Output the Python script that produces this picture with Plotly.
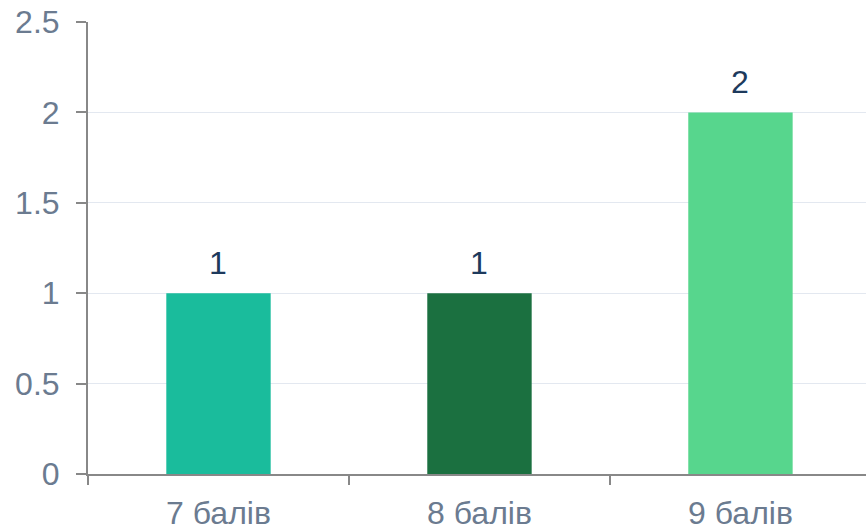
import plotly.graph_objects as go

categories = ["7 балів", "8 балів", "9 балів"]
values = [1, 1, 2]
colors = ["#1abc9c", "#1b7040", "#57d68d"]

fig = go.Figure()
fig.add_trace(go.Bar(
    x=categories,
    y=values,
    marker=dict(color=colors, line=dict(width=0)),
    width=0.4,
))

# value labels above the bars
for c, v in zip(categories, values):
    fig.add_annotation(
        x=c, y=v, text=str(v), showarrow=False,
        yanchor="bottom", yshift=10,
        font=dict(size=32, color="#1d3a5c"),
    )

axis_font = dict(family="Liberation Sans, Arial, sans-serif", size=32, color="#6b7b90")
fig.update_layout(
    width=866, height=528,
    margin=dict(l=88, r=0, t=22, b=54),
    plot_bgcolor="white", paper_bgcolor="white",
    showlegend=False,
    font=dict(family="Liberation Sans, Arial, sans-serif"),
)
fig.update_xaxes(
    range=[-0.5, 2.481],
    showline=True, linecolor="#888888", linewidth=2,
    ticks="outside", tickson="boundaries", ticklen=9, tickwidth=2, tickcolor="#888888",
    tickfont=axis_font, showgrid=False, automargin=False, ticklabelstandoff=10,
)
fig.update_yaxes(
    range=[0, 2.5], dtick=0.5,
    showline=True, linecolor="#888888", linewidth=2,
    ticks="outside", ticklen=10, tickwidth=2, tickcolor="#888888",
    tickfont=axis_font, gridcolor="#e3e8f0", gridwidth=1,
    zeroline=False, automargin=False, ticklabelstandoff=10,
)

fig.write_html("out.html", config={"displayModeBar": False},
               post_script="document.body.style.margin='0';")
